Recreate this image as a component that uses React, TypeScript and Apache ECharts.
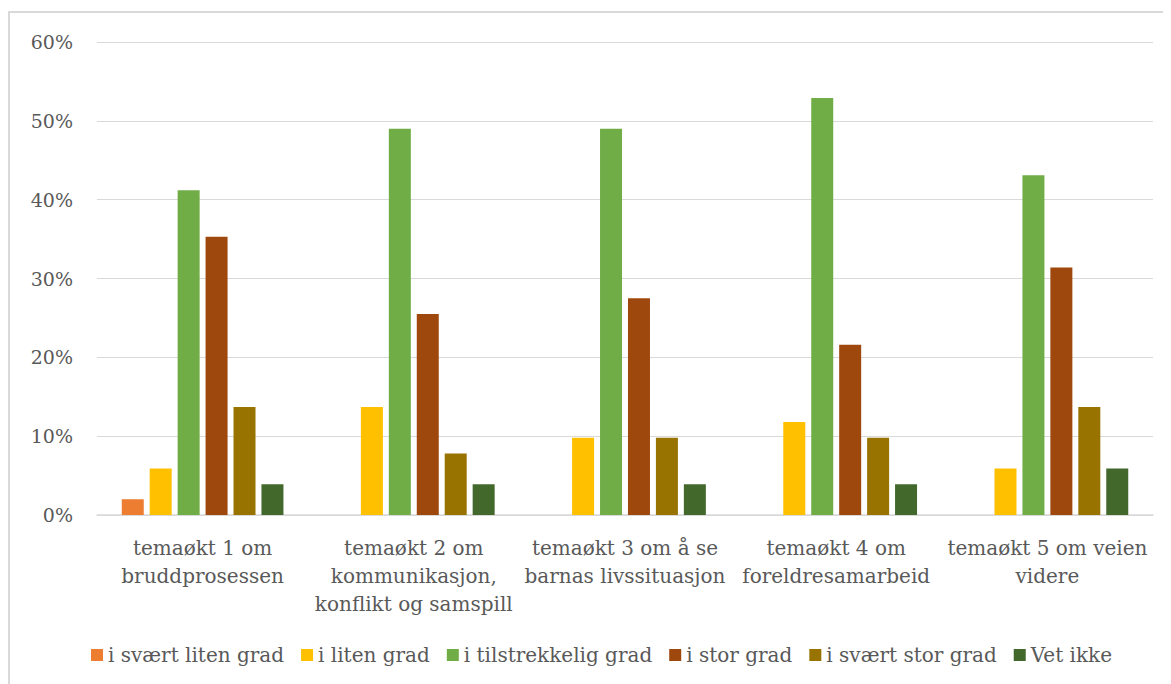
import React, { useEffect, useRef } from "react";
import * as echarts from "echarts";

const categories = [
  "temaøkt 1 om\nbruddprosessen",
  "temaøkt 2 om\nkommunikasjon,\nkonflikt og samspill",
  "temaøkt 3 om å se\nbarnas livssituasjon",
  "temaøkt 4 om\nforeldresamarbeid",
  "temaøkt 5 om veien\nvidere",
];
const seriesNames = [
  "i svært liten grad",
  "i liten grad",
  "i tilstrekkelig grad",
  "i stor grad",
  "i svært stor grad",
  "Vet ikke",
];
const seriesColors = ["#ED7D31", "#FFC000", "#70AD47", "#9E480E", "#997300", "#43682B"];
const sVaertLiten = [2.0, 0, 0, 0, 0];
const liten = [5.9, 13.7, 9.8, 11.8, 5.9];
const tilstrekkelig = [41.2, 49.0, 49.0, 52.9, 43.1];
const stor = [35.3, 25.5, 27.5, 21.6, 31.4];
const sVaertStor = [13.7, 7.8, 9.8, 9.8, 13.7];
const vetIkke = [3.9, 3.9, 3.9, 3.9, 5.9];
const seriesValues = [sVaertLiten, liten, tilstrekkelig, stor, sVaertStor, vetIkke];

const FONT = "DejaVu Serif";

export default function App() {
  const ref = useRef<HTMLDivElement>(null);
  useEffect(() => {
    if (!ref.current) return;
    const chart = echarts.init(ref.current, undefined, { renderer: "svg" });
    chart.setOption({
      animation: false,
      textStyle: { fontFamily: FONT },
      grid: { left: 87, top: 29, width: 1056, height: 473 },
      legend: {
        top: 627,
        left: 76,
        itemWidth: 12,
        itemHeight: 12,
        itemGap: 17,
        icon: "rect",
        textStyle: { fontFamily: FONT, fontSize: 20, color: "#595959" },
        data: seriesNames,
      },
      xAxis: {
        type: "category",
        data: categories,
        axisLine: { lineStyle: { color: "#d9d9d9", width: 1.5 } },
        axisTick: { show: false },
        axisLabel: {
          fontFamily: FONT,
          fontSize: 20,
          color: "#595959",
          lineHeight: 28,
          margin: 19,
          interval: 0,
        },
      },
      yAxis: {
        type: "value",
        min: 0,
        max: 60,
        interval: 10,
        axisLine: { show: false },
        axisTick: { show: false },
        splitLine: { lineStyle: { color: "#d9d9d9", width: 1 } },
        axisLabel: {
          fontFamily: FONT,
          fontSize: 19,
          color: "#595959",
          margin: 24,
          formatter: (v: number) => `${v}%`,
        },
      },
      series: seriesNames.map((name, i) => ({
        name,
        type: "bar",
        data: seriesValues[i],
        barWidth: 22,
        barGap: "27%",
        itemStyle: { color: seriesColors[i] },
      })),
    });
    return () => chart.dispose();
  }, []);
  return (
    <div style={{ paddingTop: 3 }}>
      <div
        ref={ref}
        style={{
          width: 1170,
          height: 680,
          borderLeft: "2px solid #d9d9d9",
          borderTop: "2px solid #d9d9d9",
        }}
      />
    </div>
  );
}
